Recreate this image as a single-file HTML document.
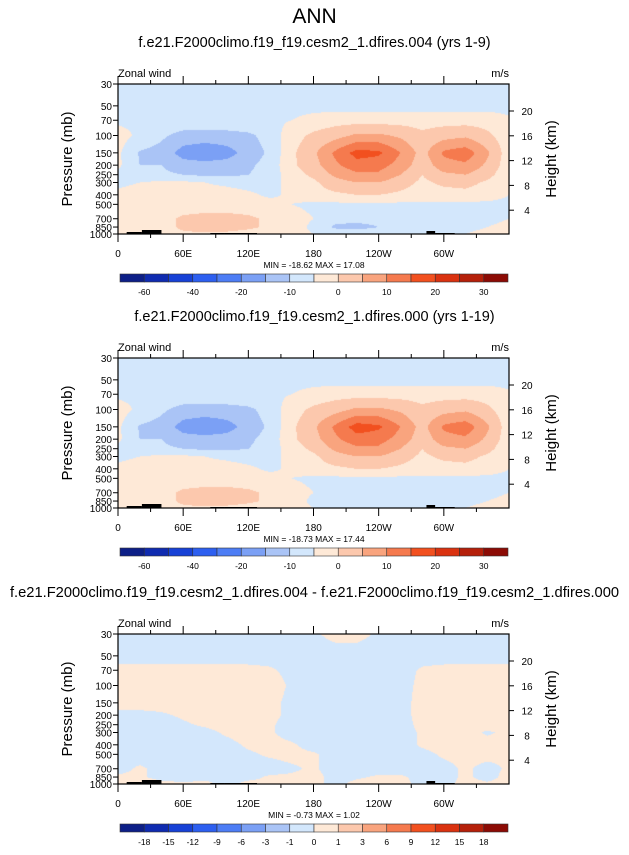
<!DOCTYPE html>
<html><head><meta charset="utf-8">
<style>
body{margin:0;background:#fff;width:629px;height:850px;overflow:hidden;font-family:"Liberation Sans",sans-serif;}
svg text{font-family:"Liberation Sans",sans-serif;}
</style></head>
<body>
<svg id="root" width="629" height="850" xmlns="http://www.w3.org/2000/svg">
<text x="314.5" y="23" font-size="21" text-anchor="middle">ANN</text>
</svg>
<script>
const lons=[0,20,40,60,80,100,120,140,160,180,200,220,240,260,280,300,320,340,360];
const pres=[30,50,70,100,150,200,250,300,400,500,700,850,1000];
const windLevels=[-60,-50,-40,-30,-20,-15,-10,-5,0,5,10,15,20,25,30];
const windLabels=["-60","-40","-20","-10","0","10","20","30"];
const diffLevels=[-18,-15,-12,-9,-6,-3,-1,0,1,3,6,9,12,15,18];
const diffLabels=["-18","-15","-12","-9","-6","-3","-1","0","1","3","6","9","12","15","18"];
const palette=["#0d1f87","#0f2bb0","#1741d6","#2d5ff0","#4d7df5","#7ba0f5","#aac4f6","#d3e7fc","#fee9d7","#fcc8ad","#f9a47e","#f57a4e","#f2501f","#da3210","#b5200a","#8c0b05"];
const lonTicks=["0","60E","120E","180","120W","60W"];
const presTicks=[30,50,70,100,150,200,250,300,400,500,700,850,1000];
const heightTicks=[4,8,12,16,20];
const field1=[
[-7,-7,-7,-7,-7,-7,-7,-7,-7,-7,-7,-7,-7,-7,-7,-7,-7,-7,-7],
[-7,-7,-7,-7,-7,-7,-7,-7,-7,-7,-7,-7,-7,-7,-7,-7,-7,-7,-7],
[-6,-6,-6,-6,-6,-6,-6,-6,-5,-3,-2,-2,-2,-2,-2,-2,-2,-2,-4],
[-3,-6,-9,-12,-12,-12,-11,-8,-2,1,3,6,6,4,1,3,4,1,-3],
[-4,-10.5,-12,-17,-19,-17,-13,-9,-1,4,11,17,16,10,3,11,13,6,-3],
[-4,-10,-10,-13,-13,-13,-11,-8,-1,3,9,13,12,8,2,8,9,4,-3],
[-6,-8,-9,-10,-11,-11,-10,-8,-2,1,6,9,9,5,0,4,5,2,-4],
[-6,-5,-4,-4,-5,-6,-7,-7,-3,-1,3,5,5,2,-1,1,2,-1,-5],
[-4,-3,-3,-3,-3,-3,-4,-6,-4,-2,-1,0,0,-1,-2,-2,-2,-3,-5],
[-3,-3,-3,-3,-3,-3,-3,-3,-5,-6,-6,-6,-6,-6,-6,-6,-6,-6,-6],
[-4,-3,-2,1,2,2,1,-1,-3,-5,-8,-8,-8,-8,-8,-8,-8,-7,-5],
[-3,-3,-2,1,3,2,1,-1,-3,-6,-11,-12,-10,-7,-7,-6,-6,-5,-3],
[-3,-3,-2,-1,-1,-1,-2,-2,-3,-5,-6,-6,-6,-6,-5,-5,-5,-4,-3]];
const field2=[
[-7,-7,-7,-7,-7,-7,-7,-7,-7,-7,-7,-7,-7,-7,-7,-7,-7,-7,-7],
[-7,-7,-7,-7,-7,-7,-7,-7,-7,-7,-7,-7,-7,-7,-7,-7,-7,-7,-7],
[-6,-6,-6,-6,-6,-6,-6,-6,-5,-3,-2,-2,-2,-2,-2,-2,-2,-2,-4],
[-3,-6,-9,-12,-12,-12,-11,-8,-2,1,3,6,6,4,1,3,4,1,-3],
[-4,-10.5,-12,-17,-19,-17,-13,-9,-1,4,11,17.4,16,10,3,11,13,6,-3],
[-4,-10,-10,-13,-13,-13,-11,-8,-1,3,9,13,12,8,2,8,9,4,-3],
[-6,-8,-9,-10,-11,-11,-10,-8,-2,1,6,9,9,5,0,4,5,2,-4],
[-6,-5,-4,-4,-5,-6,-7,-7,-3,-1,3,5,5,2,-1,1,2,-1,-5],
[-4,-3,-3,-3,-3,-3,-4,-6,-4,-2,-1,0,0,-1,-2,-2,-2,-3,-5],
[-3,-3,-3,-3,-3,-3,-3,-3,-5,-6,-6,-6,-6,-6,-6,-6,-6,-6,-6],
[-4,-3,-2,1,2,2,1,-1,-3,-5,-8,-8,-8,-8,-8,-8,-8,-7,-5],
[-3,-3,-2,1,3,2,1,-1,-3,-6,-9,-9,-8,-7,-7,-6,-6,-5,-3],
[-3,-3,-2,-1,-1,-1,-2,-2,-3,-5,-6,-6,-6,-6,-5,-5,-5,-4,-3]];
const field3=[
[-0.3,-0.3,-0.3,-0.3,-0.3,-0.3,-0.3,-0.3,-0.3,-0.1,0.2,0.2,-0.1,-0.3,-0.3,-0.3,-0.3,-0.3,-0.3],
[-0.3,-0.3,-0.3,-0.3,-0.3,-0.3,-0.3,-0.3,-0.3,-0.3,-0.3,-0.3,-0.3,-0.3,-0.3,-0.3,-0.3,-0.3,-0.3],
[0.2,0.2,0.2,0.2,0.2,0.2,0.2,0.1,-0.2,-0.3,-0.3,-0.3,-0.3,-0.3,0.1,0.2,0.2,0.2,0.2],
[0.3,0.3,0.3,0.3,0.3,0.3,0.3,0.3,-0.1,-0.3,-0.3,-0.3,-0.3,-0.3,0.2,0.3,0.3,0.3,0.3],
[0.3,0.3,0.3,0.3,0.3,0.3,0.3,0.2,-0.2,-0.3,-0.3,-0.3,-0.3,-0.3,0.3,0.3,0.3,0.3,0.3],
[-0.2,-0.2,-0.1,0.1,0.3,0.3,0.3,0.2,-0.2,-0.3,-0.3,-0.3,-0.3,-0.3,0.3,0.3,0.3,0.3,0.3],
[-0.3,-0.3,-0.3,-0.1,0.1,0.3,0.3,0.1,-0.3,-0.3,-0.3,-0.3,-0.3,-0.3,0.2,0.3,0.3,0.3,0.3],
[-0.3,-0.3,-0.3,-0.3,-0.2,0.1,0.3,0.1,-0.3,-0.3,-0.3,-0.3,-0.3,-0.3,0.1,0.3,0.3,-0.1,0.2],
[-0.3,-0.3,-0.3,-0.3,-0.3,-0.2,0.1,0.2,0.1,-0.3,-0.3,-0.3,-0.3,-0.3,0.1,0.3,0.3,0.3,0.2],
[-0.3,-0.3,-0.3,-0.3,-0.3,-0.3,-0.1,0.1,0.2,0.1,-0.3,-0.3,-0.3,-0.3,-0.2,0.1,0.2,0.2,0.1],
[-0.2,0.1,-0.2,-0.3,-0.3,-0.3,-0.3,-0.3,-0.1,0.1,-0.3,-0.3,-0.3,-0.3,-0.3,-0.2,0.1,-0.2,0.1],
[0.1,0.1,-0.2,-0.3,-0.2,-0.3,-0.2,0.1,0.1,0.2,-0.2,-0.1,0.1,0.1,-0.2,-0.2,0.1,-0.2,0.2],
[0.3,0.3,0.2,0.1,0.2,-0.2,0.2,0.1,0.2,0.2,-0.2,0.2,0.3,0.2,-0.2,-0.2,0.2,0.1,0.2]];
const topoLon=[[8,22,2],[22,40,4],[85,98,1],[98,128,1],[284,292,3],[292,310,1]];

const NS="http://www.w3.org/2000/svg";
const root=document.getElementById('root');
const PX=118,PW=391,PH=150;
function mk(tag,attrs,parent){const e=document.createElementNS(NS,tag);for(const k in attrs)e.setAttribute(k,attrs[k]);(parent||root).appendChild(e);return e;}
function xOf(lon){return PX+lon/360*PW;}
function yOf(p,top){return top+Math.log(p/30)/Math.log(1000/30)*PH;}
function interp(field,lon,p){
  let i=Math.min(Math.floor(lon/20),lons.length-2);let fx=(lon-lons[i])/20;
  const lp=Math.log(p);let j=0;while(j<pres.length-2&&Math.log(pres[j+1])<lp)j++;
  const fy=(lp-Math.log(pres[j]))/(Math.log(pres[j+1])-Math.log(pres[j]));
  const a=field[j][i]*(1-fx)+field[j][i+1]*fx,b=field[j+1][i]*(1-fx)+field[j+1][i+1]*fx;
  return a*(1-fy)+b*fy;
}
function colorIdx(v,levels){let k=0;while(k<levels.length&&v>=levels[k])k++;return k;}
function hex(c){return [parseInt(c.substr(1,2),16),parseInt(c.substr(3,2),16),parseInt(c.substr(5,2),16)];}

function panel(top,title,field,levels,labels,minmax,idx,titleSize){
  const g=mk('g',{});
  
  
  const t=mk('text',{x:314.5,y:top-37,'font-size':titleSize,'text-anchor':'middle'},g);t.textContent=title;
  
  const zw=mk('text',{x:118,y:top-7,'font-size':11},g);zw.textContent='Zonal wind';
  
  const un=mk('text',{x:509,y:top-7,'font-size':11,'text-anchor':'end'},g);un.textContent='m/s';
  
  const cv=document.createElement('canvas');cv.width=PW;cv.height=PH;
  const ctx=cv.getContext('2d');const img=ctx.createImageData(PW,PH);
  const rgb=palette.map(hex);
  for(let y=0;y<PH;y++){const p=30*Math.pow(1000/30,(y+0.5)/PH);
    for(let x=0;x<PW;x++){const lon=(x+0.5)/PW*360;const c=rgb[colorIdx(interp(field,lon,p),levels)];
      const o=(y*PW+x)*4;img.data[o]=c[0];img.data[o+1]=c[1];img.data[o+2]=c[2];img.data[o+3]=255;}}
  ctx.putImageData(img,0,0);
  const im=mk('image',{x:PX,y:top,width:PW,height:PH,href:cv.toDataURL()},g);
  
  topoLon.forEach(tp=>{const r=mk('rect',{x:xOf(tp[0]),y:top+PH-tp[2],width:xOf(tp[1])-xOf(tp[0]),height:tp[2],fill:'#000'},g);
    });
  const fr=mk('rect',{x:PX,y:top,width:PW,height:PH,fill:'none',stroke:'#000','stroke-width':1.2},g);
  
  for(let lon=0;lon<=330;lon+=30){const x=xOf(lon);const L=lon%60==0?8:4;
    mk('line',{x1:x,x2:x,y1:top,y2:top-L,stroke:'#000'},g);mk('line',{x1:x,x2:x,y1:top+PH,y2:top+PH+L,stroke:'#000'},g);}
  lonTicks.forEach((s,k)=>{const tx=mk('text',{x:xOf(k*60),y:top+PH+23,'font-size':10,'text-anchor':'middle'},g);tx.textContent=s;
    });
  presTicks.forEach(p=>{const y=yOf(p,top);mk('line',{x1:PX-5,x2:PX,y1:y,y2:y,stroke:'#000'},g);
    const tx=mk('text',{x:PX-6,y:y+4,'font-size':10,'text-anchor':'end'},g);tx.textContent=p;
    });
  heightTicks.forEach(h=>{const p=1000*Math.exp(-h/6.9);const y=yOf(p,top)+1;mk('line',{x1:PX+PW,x2:PX+PW+5,y1:y,y2:y,stroke:'#000'},g);
    const tx=mk('text',{x:PX+PW+18,y:y+4,'font-size':10,'text-anchor':'middle'},g);tx.textContent=h;
    });
  const ya=mk('text',{x:0,y:0,'font-size':15,'text-anchor':'middle',transform:`translate(72,${top+PH/2}) rotate(-90)`},g);ya.textContent='Pressure (mb)';
  
  const ha=mk('text',{x:0,y:0,'font-size':15,'text-anchor':'middle',transform:`translate(556,${top+PH/2}) rotate(-90)`},g);ha.textContent='Height (km)';
  
  const mm=mk('text',{x:314,y:top+PH+34,'font-size':8.5,'text-anchor':'middle'},g);mm.textContent=minmax;
  
  const cbx=120,cbw=388,cby=top+PH+40,bw=cbw/16;
  palette.forEach((c,k)=>{const r=mk('rect',{x:cbx+k*bw,y:cby,width:bw,height:8,fill:c,stroke:'#333','stroke-width':0.6},g);
    });
  const every=labels.length<10?2:1;
  labels.forEach((s,k)=>{const e=every==2?2*k+1:k+1;const tx=mk('text',{x:cbx+e*bw,y:cby+21,'font-size':8.5,'text-anchor':'middle'},g);tx.textContent=s;
    });
}
panel(84,'f.e21.F2000climo.f19_f19.cesm2_1.dfires.004 (yrs 1-9)',field1,windLevels,windLabels,'MIN = -18.62  MAX =  17.08',1,14.5);
panel(358,'f.e21.F2000climo.f19_f19.cesm2_1.dfires.000 (yrs 1-19)',field2,windLevels,windLabels,'MIN = -18.73  MAX =  17.44',2,14.5);
panel(634,'f.e21.F2000climo.f19_f19.cesm2_1.dfires.004 - f.e21.F2000climo.f19_f19.cesm2_1.dfires.000',field3,diffLevels,diffLabels,'MIN = -0.73  MAX =  1.02',3,14.7);
</script>
</body></html>
